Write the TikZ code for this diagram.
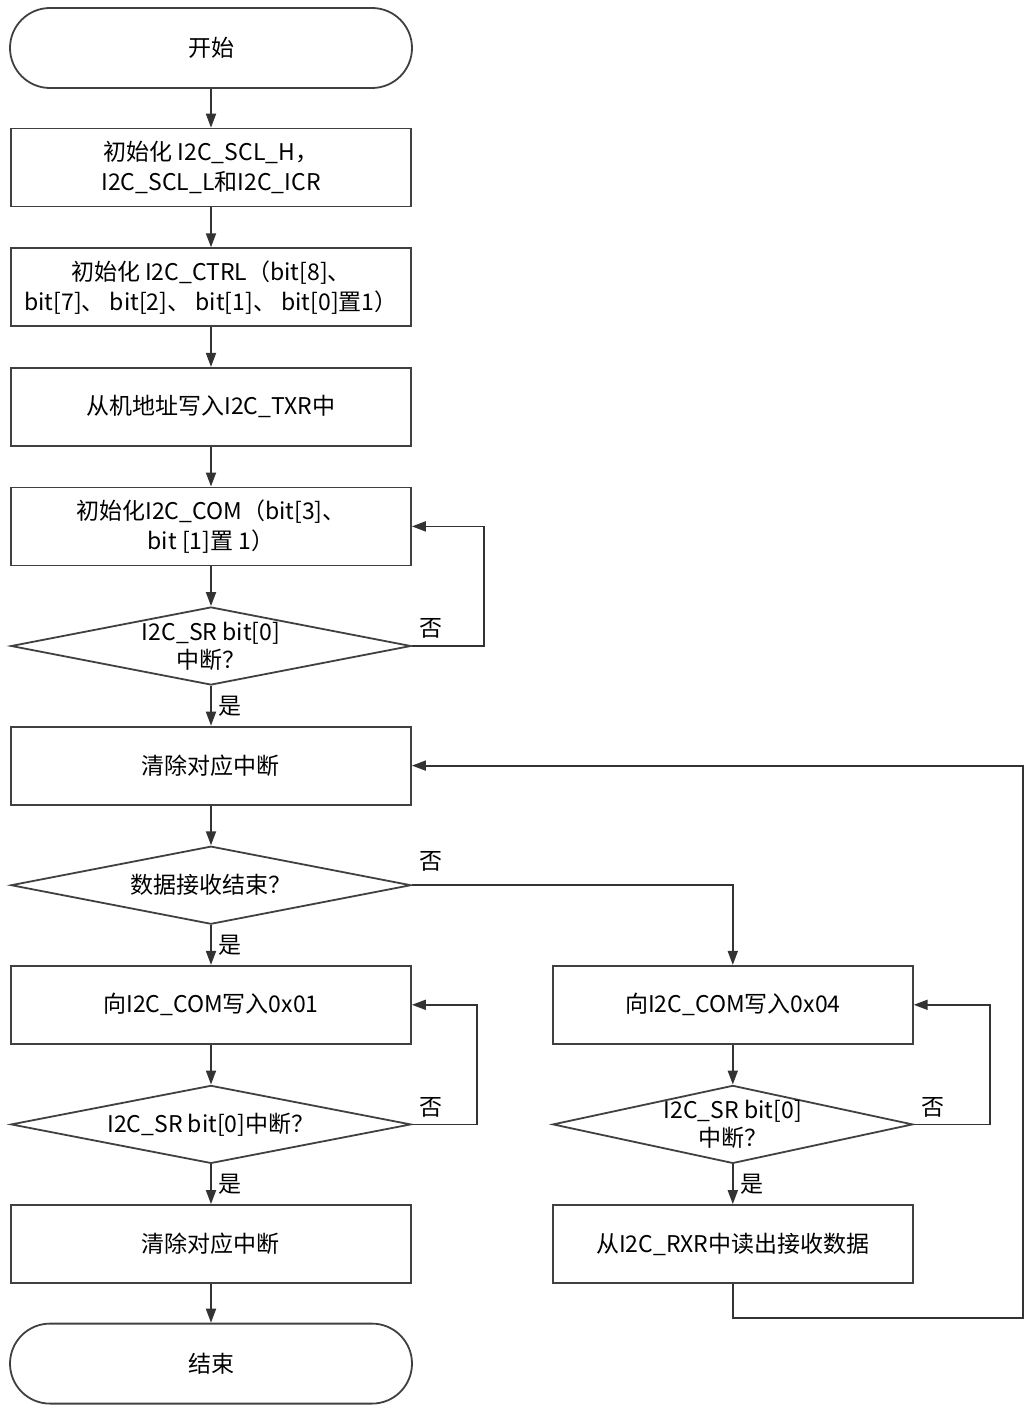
\documentclass[tikz,border=0pt]{standalone}
\usepackage{fontspec}
\setmainfont{Noto Sans CJK SC}
\usetikzlibrary{arrows.meta,shapes.geometric,positioning}

\begin{document}
\begin{tikzpicture}[->,>={Triangle[length=7pt,width=5pt]},auto,node distance=59.8pt,line width=0.9pt,draw=black!80,font=\fontsize{11.5}{15}\selectfont]
  \tikzstyle{box}=[rectangle,draw=black!75,minimum width=200pt,minimum height=39pt,align=center,inner sep=0pt]
  \tikzstyle{term}=[box,rounded corners=20pt,minimum width=201pt,minimum height=40pt]
  \tikzstyle{test}=[diamond,draw=black!75,aspect=5.13,minimum width=200pt,minimum height=39pt,align=center,inner sep=0pt,font=\fontsize{11.5}{14}\selectfont]
  \useasboundingbox (-105.5pt,24pt) rectangle (407.5pt,-679.5pt);

  \node[term] (S)                  {开始};
  \node[box]  (B1) [below of=S]    {初始化 I2C\_SCL\_H，\\I2C\_SCL\_L和I2C\_ICR};
  \node[box]  (B2) [below of=B1]   {初始化 I2C\_CTRL（bit[8]、\\bit[7]、 bit[2]、 bit[1]、 bit[0]置1）};
  \node[box]  (B3) [below of=B2]   {从机地址写入I2C\_TXR中};
  \node[box]  (B4) [below of=B3]   {初始化I2C\_COM（bit[3]、\\bit [1]置 1）};
  \node[test] (D1) [below of=B4]   {I2C\_SR bit[0]\\中断？};
  \node[box]  (B5) [below of=D1]   {清除对应中断};
  \node[test] (D2) [below of=B5]   {数据接收结束？};
  \node[box]  (B6) [below of=D2]   {向I2C\_COM写入0x01};
  \node[test] (D3) [below of=B6]   {I2C\_SR bit[0]中断？};
  \node[box]  (B7) [below of=D3]   {清除对应中断};
  \node[term] (E)  [below of=B7]   {结束};
  % receive branch
  \node[box,minimum width=180pt] (R1) [right=70pt of B6] {向I2C\_COM写入0x04};
  \node[test,aspect=4.62,minimum width=180pt,inner xsep=-4pt] (RD) [below of=R1] {I2C\_SR bit[0]\\中断？};
  \node[box,minimum width=180pt] (R2) [below of=RD] {从I2C\_RXR中读出接收数据};

  \path (S) edge (B1)
        (B1) edge (B2)
        (B2) edge (B3)
        (B3) edge (B4)
        (B4) edge (D1)
        (D1) edge node[right] {是} (B5)
        (B5) edge (D2)
        (D2) edge node[right] {是} (B6)
        (B6) edge (D3)
        (D3) edge node[right] {是} (B7)
        (B7) edge (E)
        (R1) edge (RD)
        (RD) edge node[right] {是} (R2);

  \draw (D1.east) node[above right] {否} -- ++(36pt,0) |- (B4.east);
  \draw (D2.east) node[above right,yshift=3pt] {否} -| (R1.north);
  \draw (D3.east) node[above right] {否} -- ++(32.5pt,0) |- (B6.east);
  \draw (RD.east) node[above right] {否} -- ++(38pt,0) |- (R1.east);
  \draw (R2.south) -- ++(0,-17pt) -- ++(145pt,0) |- (B5.east);
\end{tikzpicture}
\end{document}
